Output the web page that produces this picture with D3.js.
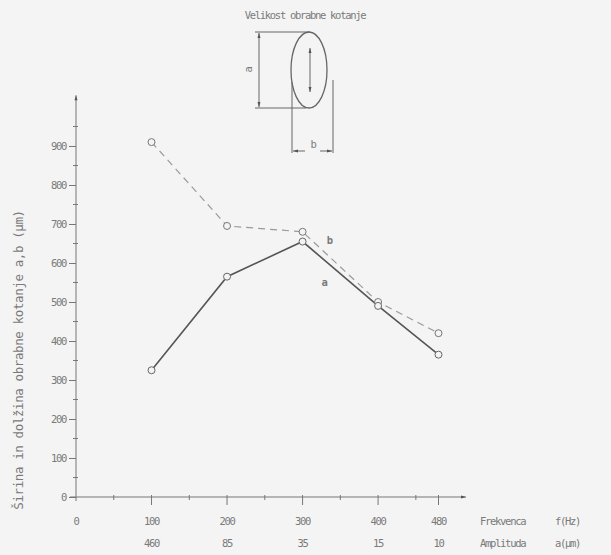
<!DOCTYPE html>
<html>
<head>
<meta charset="utf-8">
<script src="https://cdn.jsdelivr.net/npm/d3@7"></script>
<style>
  body { margin: 0; background: #f4f4f4; }
  svg { display: block; }
  text { font-family: "DejaVu Sans Mono", monospace; fill: #7a7a7a; font-size: 10.5px; letter-spacing: -1.3px; }
</style>
</head>
<body>
<div id="chart"></div>
<script>
// Frequency (Hz) and amplitude (um) of each test
const frequencies = [100, 200, 300, 400, 480];
const amplitudes = [460, 85, 35, 15, 10];
// Wear scar length a and width b (um)
const seriesA = [325, 565, 655, 490, 365];
const seriesB = [910, 695, 680, 500, 420];
const yTicks = [0, 100, 200, 300, 400, 500, 600, 700, 800, 900];

const W = 611, H = 555;
const svg = d3.select("#chart").append("svg")
  .attr("width", W).attr("height", H);

svg.append("rect").attr("width", W).attr("height", H).attr("fill", "#f4f4f4");

const defs = svg.append("defs");
defs.append("marker")
  .attr("id", "arr")
  .attr("viewBox", "0 0 10 10")
  .attr("refX", 10).attr("refY", 5)
  .attr("markerWidth", 9).attr("markerHeight", 5)
  .attr("orient", "auto-start-reverse")
  .attr("markerUnits", "userSpaceOnUse")
  .append("path").attr("d", "M0,2 L10,5 L0,8 Z").attr("fill", "#555");

const x = d3.scaleLinear().domain([0, 480]).range([76, 438.5]);
const y = d3.scaleLinear().domain([0, 900]).range([497, 146]);

const axisColor = "#777";

// Y axis
svg.append("line")
  .attr("x1", x(0)).attr("x2", x(0))
  .attr("y1", y(0) + 4).attr("y2", y(1030))
  .attr("stroke", axisColor).attr("stroke-width", 1)
  .attr("marker-end", "url(#arr)");

const yAxis = svg.append("g")
  .attr("transform", `translate(${x(0)},0)`)
  .call(d3.axisLeft(y).tickValues(yTicks).tickSize(7).tickPadding(3).tickFormat(d3.format("d")));
yAxis.select(".domain").remove();
yAxis.selectAll("line").attr("stroke", axisColor);
yAxis.selectAll("text")
  .attr("fill", "#7a7a7a")
  .style("font-size", "10.5px")
  .style("font-family", "DejaVu Sans Mono")
  .style("letter-spacing", "-1.3px");

svg.selectAll(".yminor")
  .data(d3.range(50, 1000, 100))
  .enter().append("line")
  .attr("x1", x(0) - 3).attr("x2", x(0) + 2)
  .attr("y1", d => y(d)).attr("y2", d => y(d))
  .attr("stroke", axisColor);

// X axis
svg.append("line")
  .attr("x1", x(0) - 6).attr("x2", 466)
  .attr("y1", y(0)).attr("y2", y(0))
  .attr("stroke", axisColor).attr("stroke-width", 1)
  .attr("marker-end", "url(#arr)");

svg.selectAll(".xmajor")
  .data(frequencies)
  .enter().append("line")
  .attr("x1", d => x(d)).attr("x2", d => x(d))
  .attr("y1", y(0) - 2).attr("y2", y(0) + 8)
  .attr("stroke", axisColor);

svg.selectAll(".xminor")
  .data([50, 150, 250, 350, 450])
  .enter().append("line")
  .attr("x1", d => x(d)).attr("x2", d => x(d))
  .attr("y1", y(0) - 2).attr("y2", y(0) + 3)
  .attr("stroke", axisColor);

svg.append("text")
  .attr("x", x(0)).attr("y", 525)
  .attr("text-anchor", "middle")
  .text("0");

svg.selectAll(".flab")
  .data(frequencies)
  .enter().append("text")
  .attr("x", d => x(d)).attr("y", 525)
  .attr("text-anchor", "middle")
  .text(d => d);

svg.selectAll(".alab")
  .data(amplitudes)
  .enter().append("text")
  .attr("x", (d, i) => x(frequencies[i])).attr("y", 547)
  .attr("text-anchor", "middle")
  .text(d => d);

svg.append("text").attr("x", 480).attr("y", 525).text("Frekvenca");
svg.append("text").attr("x", 555).attr("y", 525).text("f(Hz)");
svg.append("text").attr("x", 480).attr("y", 547).text("Amplituda");
svg.append("text").attr("x", 555).attr("y", 547).text("a(µm)");

// Y axis title
svg.append("text")
  .attr("transform", "translate(23,360) rotate(-90)")
  .attr("text-anchor", "middle")
  .style("font-size", "12.5px")
  .style("letter-spacing", "-0.4px")
  .text("Širina in dolžina obrabne kotanje a,b (µm)");

// Lines
const line = d3.line().x(d => x(d[0])).y(d => y(d[1]));
const ptsA = frequencies.map((f, i) => [f, seriesA[i]]);
const ptsB = frequencies.map((f, i) => [f, seriesB[i]]);

svg.append("path").datum(ptsB)
  .attr("d", line).attr("fill", "none")
  .attr("stroke", "#9a9a9a").attr("stroke-width", 1.2)
  .attr("stroke-dasharray", "7,5");

svg.append("path").datum(ptsA)
  .attr("d", line).attr("fill", "none")
  .attr("stroke", "#555").attr("stroke-width", 1.6);

svg.selectAll(".ptB").data(ptsB).enter().append("circle")
  .attr("cx", d => x(d[0])).attr("cy", d => y(d[1])).attr("r", 3.5)
  .attr("fill", "#f4f4f4").attr("stroke", "#777");

svg.selectAll(".ptA").data(ptsA).enter().append("circle")
  .attr("cx", d => x(d[0])).attr("cy", d => y(d[1])).attr("r", 3.5)
  .attr("fill", "#f4f4f4").attr("stroke", "#666");

svg.append("text").attr("x", x(332)).attr("y", y(650))
  .style("font-weight", "bold").attr("fill", "#444").text("b");
svg.append("text").attr("x", x(325)).attr("y", y(540))
  .style("font-weight", "bold").attr("fill", "#555").text("a");

// Wear scar sketch
const sk = svg.append("g").attr("stroke", "#666").attr("fill", "none").attr("stroke-width", 1);
svg.append("text").attr("x", 305).attr("y", 19)
  .attr("text-anchor", "middle")
  .text("Velikost obrabne kotanje");

sk.append("ellipse").attr("cx", 309).attr("cy", 70).attr("rx", 18).attr("ry", 38).attr("stroke-width", 1.3);
sk.append("line").attr("x1", 255).attr("x2", 310).attr("y1", 32).attr("y2", 32);
sk.append("line").attr("x1", 255).attr("x2", 306).attr("y1", 108).attr("y2", 108);
sk.append("line").attr("x1", 259).attr("x2", 259).attr("y1", 70).attr("y2", 33).attr("marker-end", "url(#arr)");
sk.append("line").attr("x1", 259).attr("x2", 259).attr("y1", 70).attr("y2", 107).attr("marker-end", "url(#arr)");
sk.append("line").attr("x1", 310).attr("x2", 310).attr("y1", 70).attr("y2", 48).attr("marker-end", "url(#arr)");
sk.append("line").attr("x1", 310).attr("x2", 310).attr("y1", 70).attr("y2", 92).attr("marker-end", "url(#arr)");
sk.append("line").attr("x1", 292).attr("x2", 292).attr("y1", 82).attr("y2", 153);
sk.append("line").attr("x1", 333).attr("x2", 333).attr("y1", 80).attr("y2", 153);
sk.append("line").attr("x1", 305).attr("x2", 293).attr("y1", 151).attr("y2", 151).attr("marker-end", "url(#arr)");
sk.append("line").attr("x1", 320).attr("x2", 332).attr("y1", 151).attr("y2", 151).attr("marker-end", "url(#arr)");
svg.append("text").attr("transform", "translate(252,70) rotate(-90)")
  .attr("text-anchor", "middle").text("a");
svg.append("text").attr("x", 313).attr("y", 148)
  .attr("text-anchor", "middle").text("b");
</script>
</body>
</html>
